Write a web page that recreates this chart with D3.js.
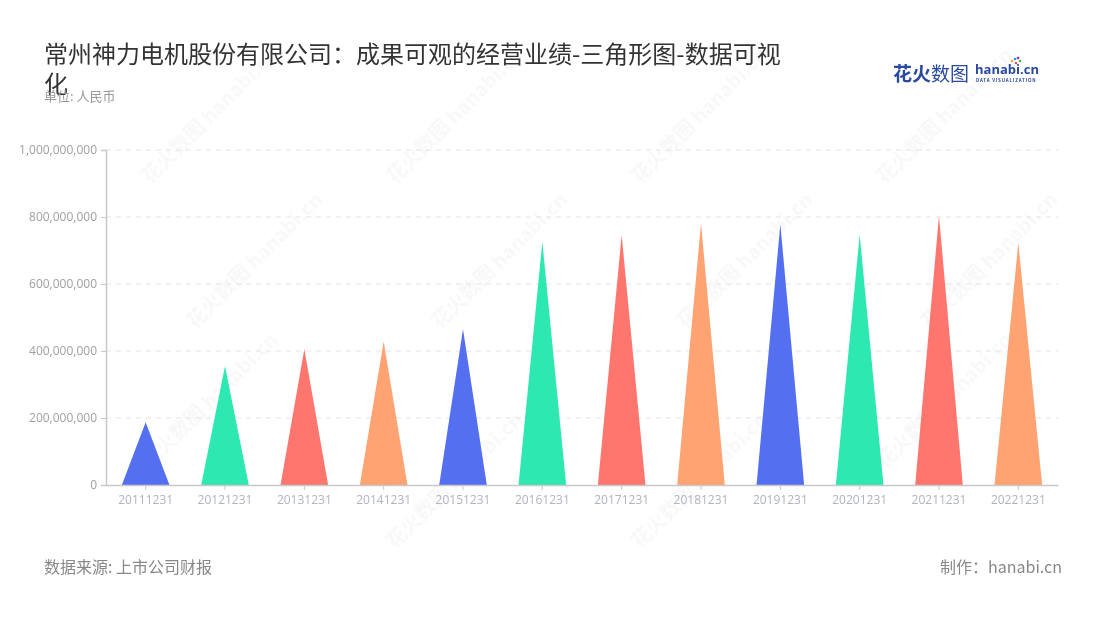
<!DOCTYPE html>
<html>
<head>
<meta charset="utf-8">
<script src="https://cdn.jsdelivr.net/npm/d3@7/dist/d3.min.js"></script>
<style>
  html, body { margin: 0; padding: 0; background: #fff; }
  svg { display: block; font-family: "Noto Sans CJK SC", "Noto Sans", sans-serif; }
</style>
</head>
<body>
<svg id="chart" width="1100" height="620"></svg>
<script>
const categories = ["20111231","20121231","20131231","20141231","20151231","20161231","20171231","20181231","20191231","20201231","20211231","20221231"];
const values = [187000000, 355000000, 406000000, 428000000, 465000000, 726000000, 746000000, 781000000, 778000000, 748000000, 804000000, 723000000];
const colors = ["#5470f0", "#2de9b1", "#ff766f", "#ffa372"];
const yTicks = [0, 200000000, 400000000, 600000000, 800000000, 1000000000];

const svg = d3.select("#chart");
const margin = {left: 106, right: 1058, top: 150, bottom: 485};

const x = d3.scaleBand().domain(categories).range([margin.left, margin.right]).paddingInner(0).paddingOuter(0);
const y = d3.scaleLinear().domain([0, 1000000000]).range([margin.bottom, margin.top]);

// watermarks
const wm = svg.append("g").attr("fill", "#000").attr("opacity", 0.03).attr("font-weight", "bold");
const wmPos = [[150,185],[395,185],[640,185],[885,185],[195,330],[440,330],[685,330],[930,330],[150,470],[395,550],[640,550],[885,470]];
wmPos.forEach(p => {
  wm.append("text").attr("transform", `translate(${p[0]},${p[1]}) rotate(-45)`)
    .attr("font-size", 20).text("花火数图 hanabi.cn");
});

// grid
svg.append("g").selectAll("line").data(yTicks.filter(d => d > 0)).join("line")
  .attr("x1", margin.left).attr("x2", margin.right)
  .attr("y1", d => y(d)).attr("y2", d => y(d))
  .attr("stroke", "#e3e3e3").attr("stroke-dasharray", "5,5");

// triangles
svg.append("g").selectAll("path").data(values).join("path")
  .attr("d", (d, i) => {
    const c = x(categories[i]) + x.bandwidth() / 2;
    const hw = x.bandwidth() * 0.3;
    return `M${c - hw},${y(0)} L${c},${y(d)} L${c + hw},${y(0)} Z`;
  })
  .attr("fill", (d, i) => colors[i % 4]);

// y axis
const yAxis = svg.append("g").attr("transform", `translate(${margin.left},0)`)
  .call(d3.axisLeft(y).tickValues(yTicks).tickSize(5).tickPadding(4).tickFormat(d3.format(",")));
yAxis.select(".domain").attr("stroke", "#c8c8c8").attr("stroke-width", 1.5);
yAxis.selectAll(".tick line").attr("stroke", "#c8c8c8");
yAxis.selectAll("text").attr("fill", "#a0a0a0").attr("font-size", 12).attr("font-family", "'Open Sans', 'Noto Sans', sans-serif");

// x axis
const xAxis = svg.append("g").attr("transform", `translate(0,${margin.bottom})`)
  .call(d3.axisBottom(x).tickSize(5).tickSizeOuter(0).tickPadding(5));
xAxis.select(".domain").attr("stroke", "#c8c8c8").attr("stroke-width", 1.5);
xAxis.selectAll(".tick line").attr("stroke", "#c8c8c8");
xAxis.selectAll("text").attr("fill", "#b0b4c0").attr("font-size", 12).attr("font-family", "'Open Sans', 'Noto Sans', sans-serif");

// title
const title = svg.append("text").attr("x", 44).attr("y", 62).attr("fill", "#333").attr("font-size", 24);
title.append("tspan").attr("x", 44).attr("y", 63).text("常州神力电机股份有限公司：成果可观的经营业绩-三角形图-数据可视");
title.append("tspan").attr("x", 44).attr("y", 93).text("化");

svg.append("text").attr("x", 44).attr("y", 101).attr("fill", "#999").attr("font-size", 13).text("单位: 人民币");

// logo
svg.append("text").attr("x", 893).attr("y", 81).attr("fill", "#2a4a9e").attr("font-size", 19).attr("font-weight", "bold").text("花火");
svg.append("text").attr("x", 931).attr("y", 81).attr("fill", "#2a4a9e").attr("font-size", 19).text("数图");
svg.append("text").attr("x", 975).attr("y", 74).attr("fill", "#2a4a9e").attr("font-size", 13).attr("font-weight", "bold").attr("font-family", "'Open Sans', sans-serif").text("hanabi.cn");
svg.append("text").attr("x", 976).attr("y", 81.5).attr("fill", "#2a4a9e").attr("font-size", 4.5).attr("font-weight", "bold").attr("letter-spacing", 0.8).text("DATA VISUALIZATION");
const sp = [["#f5a623",1012,61],["#e94e77",1016,63],["#4caf50",1020,61],["#2196f3",1015,59],["#9c27b0",1018,58]];
sp.forEach(s => svg.append("circle").attr("cx", s[1]).attr("cy", s[2]).attr("r", 1.3).attr("fill", s[0]));

// footer
svg.append("text").attr("x", 44).attr("y", 573).attr("fill", "#888").attr("font-size", 16).text("数据来源: 上市公司财报");
svg.append("text").attr("x", 1062).attr("y", 573).attr("text-anchor", "end").attr("fill", "#888").attr("font-size", 16).text("制作：hanabi.cn");
</script>
</body>
</html>
